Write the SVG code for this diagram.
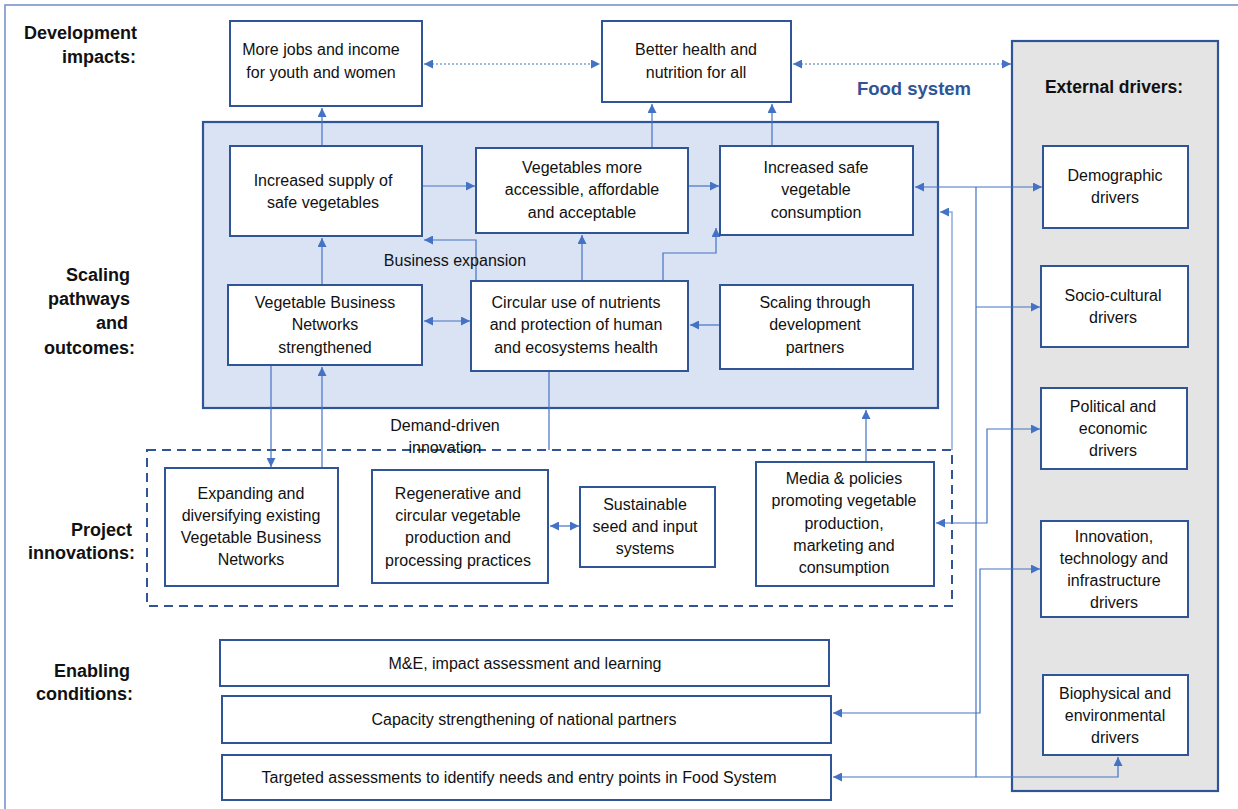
<svg xmlns="http://www.w3.org/2000/svg" width="1238" height="809" viewBox="0 0 1238 809">
<style>
text{font-family:"Liberation Sans",Arial,sans-serif;font-size:16px;fill:#111;text-anchor:middle}
.lbl{font-weight:bold;font-size:18px;text-anchor:end}
.hdr{font-weight:bold;font-size:17.5px}
.fs{font-weight:bold;font-size:18.5px;fill:#2f5597}
.box{fill:#fff;stroke:#2f5597;stroke-width:2}
.c{fill:none;stroke:#4472c4;stroke-width:1.2}
.cl{fill:none;stroke:#8eaadb;stroke-width:1.5}
.dot{fill:none;stroke:#4472c4;stroke-width:1.2;stroke-dasharray:2 2}
</style>
<defs>
<marker id="ah" viewBox="0 0 10 10" refX="10" refY="5" markerWidth="9" markerHeight="9" markerUnits="userSpaceOnUse" orient="auto-start-reverse"><path d="M0,0 L10,5 L0,10 z" fill="#4472c4"/></marker>
</defs>
<rect width="1238" height="809" fill="#fff"/>
<rect x="5" y="5" width="1250" height="820" fill="none" stroke="#6d8ec8" stroke-width="1.5"/>

<g id="external-panel">
<rect x="1012" y="41" width="206" height="750" fill="#e4e4e4" stroke="#2f5597" stroke-width="2.2"/>
<text class="hdr" x="1114" y="93">External drivers:</text>
</g>
<g id="foodsystem-panel">
<rect x="203" y="122" width="735" height="286" fill="#dae3f3" stroke="#2f5597" stroke-width="2.2"/>
<text class="fs" x="914" y="95">Food system</text>
</g>
<g id="innovations-panel">
<rect x="147" y="450" width="805" height="156" fill="none" stroke="#2f5597" stroke-width="2" stroke-dasharray="9 6"/>
</g>

<g id="labels">
<text class="lbl" x="137" y="39">Development</text>
<text class="lbl" x="136" y="63">impacts:</text>
<text class="lbl" x="130" y="281">Scaling</text>
<text class="lbl" x="130" y="305">pathways</text>
<text class="lbl" x="128" y="329">and</text>
<text class="lbl" x="135" y="354">outcomes:</text>
<text class="lbl" x="132" y="536">Project</text>
<text class="lbl" x="135" y="559">innovations:</text>
<text class="lbl" x="130" y="677">Enabling</text>
<text class="lbl" x="133" y="700">conditions:</text>
</g>

<g id="connectors">
<path class="dot" d="M424,64 H600" marker-start="url(#ah)" marker-end="url(#ah)"/>
<path class="dot" d="M793,64 H1011" marker-start="url(#ah)" marker-end="url(#ah)"/>
<path class="c" d="M322,146 V108" marker-end="url(#ah)"/>
<path class="c" d="M422,186 H475" marker-end="url(#ah)"/>
<path class="c" d="M688,186 H719" marker-end="url(#ah)"/>
<path class="c" d="M652,148 V104" marker-end="url(#ah)"/>
<path class="c" d="M772,146 V104" marker-end="url(#ah)"/>
<path class="c" d="M322,285 V238" marker-end="url(#ah)"/>
<path class="c" d="M476,281 V240 H424" marker-end="url(#ah)"/>
<path class="c" d="M582,281 V235" marker-end="url(#ah)"/>
<path class="c" d="M663,281 V253 H716 V228" marker-end="url(#ah)"/>
<path class="c" d="M424,321 H470" marker-start="url(#ah)" marker-end="url(#ah)"/>
<path class="c" d="M720,325 H690" marker-end="url(#ah)"/>
<path class="c" d="M271,365 V467" marker-end="url(#ah)"/>
<path class="c" d="M322,468 V367" marker-end="url(#ah)"/>
<path class="c" d="M549,371 V450"/>
<path class="c" d="M866,478 V410" marker-end="url(#ah)"/>
<path class="c" d="M550,526 H579" marker-start="url(#ah)" marker-end="url(#ah)"/>
<path class="c" d="M915,187 H1042" marker-start="url(#ah)" marker-end="url(#ah)"/>
<path class="c" d="M976,187 V777"/>
<path class="c" d="M976,307 H1040" marker-end="url(#ah)"/>
<path class="c" d="M976,777 H833" stroke-width="2" marker-end="url(#ah)"/>
<path class="c" d="M976,777 H1118 V757" marker-end="url(#ah)"/>
<path class="cl" d="M952,450 V212 H940" marker-end="url(#ah)"/>
<path class="c" d="M936,523 H987 V429 H1040" marker-start="url(#ah)" marker-end="url(#ah)"/>
<path class="c" d="M1040,569 H980 V713 H833" marker-start="url(#ah)" marker-end="url(#ah)"/>
</g>

<g id="n-jobs"><rect class="box" x="230" y="21" width="192" height="85"/>
<text x="321" y="55">More jobs and income</text><text x="321" y="78">for youth and women</text></g>
<g id="n-health"><rect class="box" x="602" y="21" width="189" height="81"/>
<text x="696" y="55">Better health and</text><text x="696" y="78">nutrition for all</text></g>
<g id="n-supply"><rect class="box" x="230" y="146" width="192" height="90"/>
<text x="323" y="186">Increased supply of</text><text x="323" y="208">safe vegetables</text></g>
<g id="n-access"><rect class="box" x="476" y="148" width="212" height="85"/>
<text x="582" y="173">Vegetables more</text><text x="582" y="195">accessible, affordable</text><text x="582" y="218">and acceptable</text></g>
<g id="n-consumption"><rect class="box" x="720" y="146" width="193" height="89"/>
<text x="816" y="173">Increased safe</text><text x="816" y="195">vegetable</text><text x="816" y="218">consumption</text></g>
<g id="n-vbn"><rect class="box" x="228" y="285" width="194" height="80"/>
<text x="325" y="308">Vegetable Business</text><text x="325" y="330">Networks</text><text x="325" y="353">strengthened</text></g>
<g id="n-circular"><rect class="box" x="471" y="281" width="217" height="90"/>
<text x="576" y="308">Circular use of nutrients</text><text x="576" y="330">and protection of human</text><text x="576" y="353">and ecosystems health</text></g>
<g id="n-scaling"><rect class="box" x="720" y="285" width="193" height="84"/>
<text x="815" y="308">Scaling through</text><text x="815" y="330">development</text><text x="815" y="353">partners</text></g>
<g id="t-business"><text x="455" y="266">Business expansion</text></g>
<g id="t-demand"><text x="445" y="431">Demand-driven</text><text x="445" y="453">innovation</text></g>

<g id="n-expanding"><rect class="box" x="165" y="468" width="173" height="118"/>
<text x="251" y="499">Expanding and</text><text x="251" y="521">diversifying existing</text><text x="251" y="543">Vegetable Business</text><text x="251" y="565">Networks</text></g>
<g id="n-regen"><rect class="box" x="372" y="470" width="176" height="113"/>
<text x="458" y="499">Regenerative and</text><text x="458" y="521">circular vegetable</text><text x="458" y="543">production and</text><text x="458" y="566">processing practices</text></g>
<g id="n-seed"><rect class="box" x="580" y="487" width="135" height="80"/>
<text x="645" y="510">Sustainable</text><text x="645" y="532">seed and input</text><text x="645" y="554">systems</text></g>
<g id="n-media"><rect class="box" x="756" y="462" width="178" height="124"/>
<text x="844" y="484">Media &amp; policies</text><text x="844" y="506">promoting vegetable</text><text x="844" y="529">production,</text><text x="844" y="551">marketing and</text><text x="844" y="573">consumption</text></g>

<g id="n-me"><rect class="box" x="220" y="640" width="609" height="46"/>
<text x="525" y="669">M&amp;E, impact assessment and learning</text></g>
<g id="n-capacity"><rect class="box" x="222" y="696" width="609" height="47"/>
<text x="524" y="725">Capacity strengthening of national partners</text></g>
<g id="n-targeted"><rect class="box" x="222" y="755" width="609" height="45"/>
<text x="519" y="783">Targeted assessments to identify needs and entry points in Food System</text></g>

<g id="d-demographic"><rect class="box" x="1043" y="146" width="145" height="82"/>
<text x="1115" y="181">Demographic</text><text x="1115" y="203">drivers</text></g>
<g id="d-socio"><rect class="box" x="1041" y="266" width="147" height="81"/>
<text x="1113" y="301">Socio-cultural</text><text x="1113" y="323">drivers</text></g>
<g id="d-political"><rect class="box" x="1041" y="388" width="146" height="81"/>
<text x="1113" y="412">Political and</text><text x="1113" y="434">economic</text><text x="1113" y="456">drivers</text></g>
<g id="d-innovation"><rect class="box" x="1041" y="521" width="147" height="96"/>
<text x="1114" y="542">Innovation,</text><text x="1114" y="564">technology and</text><text x="1114" y="586">infrastructure</text><text x="1114" y="608">drivers</text></g>
<g id="d-biophysical"><rect class="box" x="1043" y="675" width="145" height="80"/>
<text x="1115" y="699">Biophysical and</text><text x="1115" y="721">environmental</text><text x="1115" y="743">drivers</text></g>
</svg>
